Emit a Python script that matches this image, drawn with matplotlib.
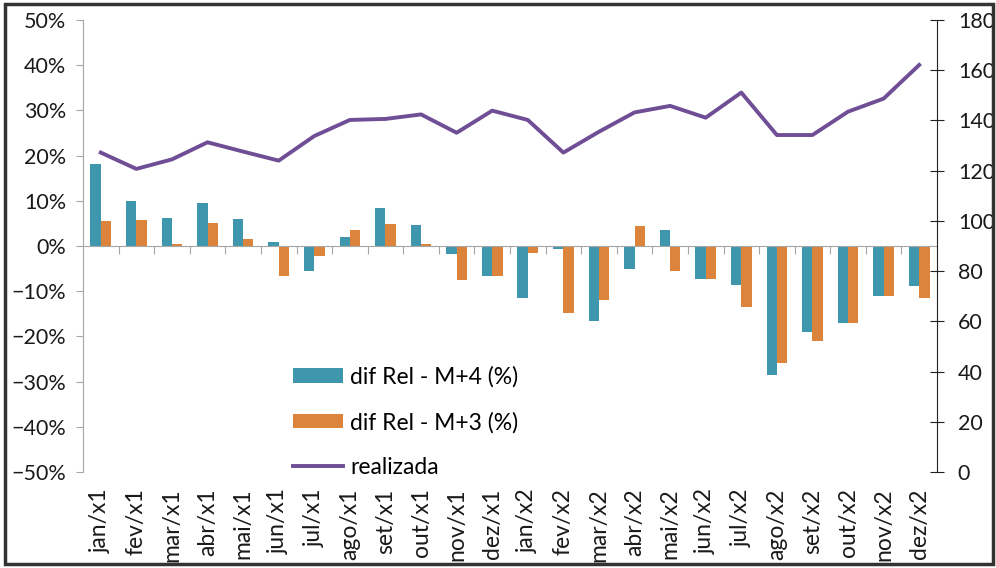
import numpy as np
import matplotlib
matplotlib.use('Agg')
import matplotlib.pyplot as plt
from matplotlib.patches import Rectangle
from matplotlib.ticker import PercentFormatter

plt.rcParams['font.family'] = ['Lato', 'DejaVu Sans']

months = ['jan/x1', 'fev/x1', 'mar/x1', 'abr/x1', 'mai/x1', 'jun/x1',
          'jul/x1', 'ago/x1', 'set/x1', 'out/x1', 'nov/x1', 'dez/x1',
          'jan/x2', 'fev/x2', 'mar/x2', 'abr/x2', 'mai/x2', 'jun/x2',
          'jul/x2', 'ago/x2', 'set/x2', 'out/x2', 'nov/x2', 'dez/x2']
# dif Rel - M+4 (%)
dif_m4 = [18.1, 9.9, 6.2, 9.6, 5.9, 0.9, -5.6, 2.0, 8.3, 4.6, -1.7, -6.7,
          -11.4, -0.7, -16.5, -5.0, 3.6, -7.2, -8.6, -28.6, -19.0, -17.1, -11.0, -8.9]
# dif Rel - M+3 (%)
dif_m3 = [5.5, 5.7, 0.4, 5.1, 1.5, -6.6, -2.2, 3.6, 4.9, 0.4, -7.5, -6.7,
          -1.5, -14.9, -12.0, 4.4, -5.5, -7.2, -13.6, -25.9, -21.0, -17.1, -11.0, -11.5]
# realizada (eixo direito)
realizada = [127.2, 120.7, 124.5, 131.3, 127.6, 124.0, 133.8, 140.2, 140.6, 142.4, 135.1, 143.9,
             140.2, 127.2, 135.5, 143.2, 145.8, 141.1, 151.1, 134.2, 134.2, 143.5, 148.7, 162.1]

teal = '#3f97ae'
orange = '#dd843c'
purple = '#6f4e96'
grey = '#a6a6a6'
txt = '#1a1a1a'
fs = 15.5
fs_big = 16.5

fig = plt.figure(figsize=(9.96, 5.68), dpi=100)
ax = fig.add_axes([83/996, 1-472/568, (937-83)/996, (472-20)/568])

x = np.arange(len(months))
w = 0.29
b1 = ax.bar(x - w/2, dif_m4, w, color=teal, label='dif Rel - M+4 (%)')
b2 = ax.bar(x + w/2, dif_m3, w, color=orange, label='dif Rel - M+3 (%)')

ax.set_xlim(-0.5, len(months) - 0.5)
ax.set_ylim(-50, 50)
ax.set_yticks(np.arange(-50, 51, 10))
ax.yaxis.set_major_formatter(PercentFormatter(decimals=0))
ax.tick_params(axis='y', labelsize=fs, color=grey, length=5, pad=7, labelcolor=txt)

ax.spines['top'].set_visible(False)
ax.spines['right'].set_visible(False)
ax.spines['left'].set_color(grey)
ax.spines['bottom'].set_position(('data', 0))
ax.spines['bottom'].set_color(grey)
ax.set_xticks(np.arange(0.5, len(months) - 0.5))
ax.set_xticklabels([])
ax.tick_params(axis='x', color=grey, length=6, direction='out')

# category labels below the plot area
for i, m in enumerate(months):
    ax.text(i, -0.036, m, transform=ax.get_xaxis_transform(), rotation=90,
            ha='center', va='top', fontsize=fs_big, color=txt)

ax2 = ax.twinx()
ln, = ax2.plot(x, realizada, color=purple, lw=2.8, label='realizada')
ax2.set_ylim(0, 180)
ax2.set_yticks(np.arange(0, 181, 20))
for s in ['top', 'left', 'bottom']:
    ax2.spines[s].set_visible(False)
ax2.spines['right'].set_color('#222222')
ax2.tick_params(axis='y', labelsize=fs, direction='inout', length=10, pad=10,
                color='#222222', labelcolor=txt)

ax2.legend([b1, b2, ln], ['dif Rel - M+4 (%)', 'dif Rel - M+3 (%)', 'realizada'],
           loc='upper left', bbox_to_anchor=((293-83)/854, (472-366)/452),
           frameon=False, fontsize=fs_big, handlelength=2.2, handleheight=0.6,
           handletextpad=0.3, labelspacing=1.05, borderpad=0, borderaxespad=0)

fig.patches.append(Rectangle((5/996, 4/568), 988/996, 560/568, transform=fig.transFigure,
                             fill=False, edgecolor='#333333', lw=2.5))

fig.savefig('out.png', dpi=100)
